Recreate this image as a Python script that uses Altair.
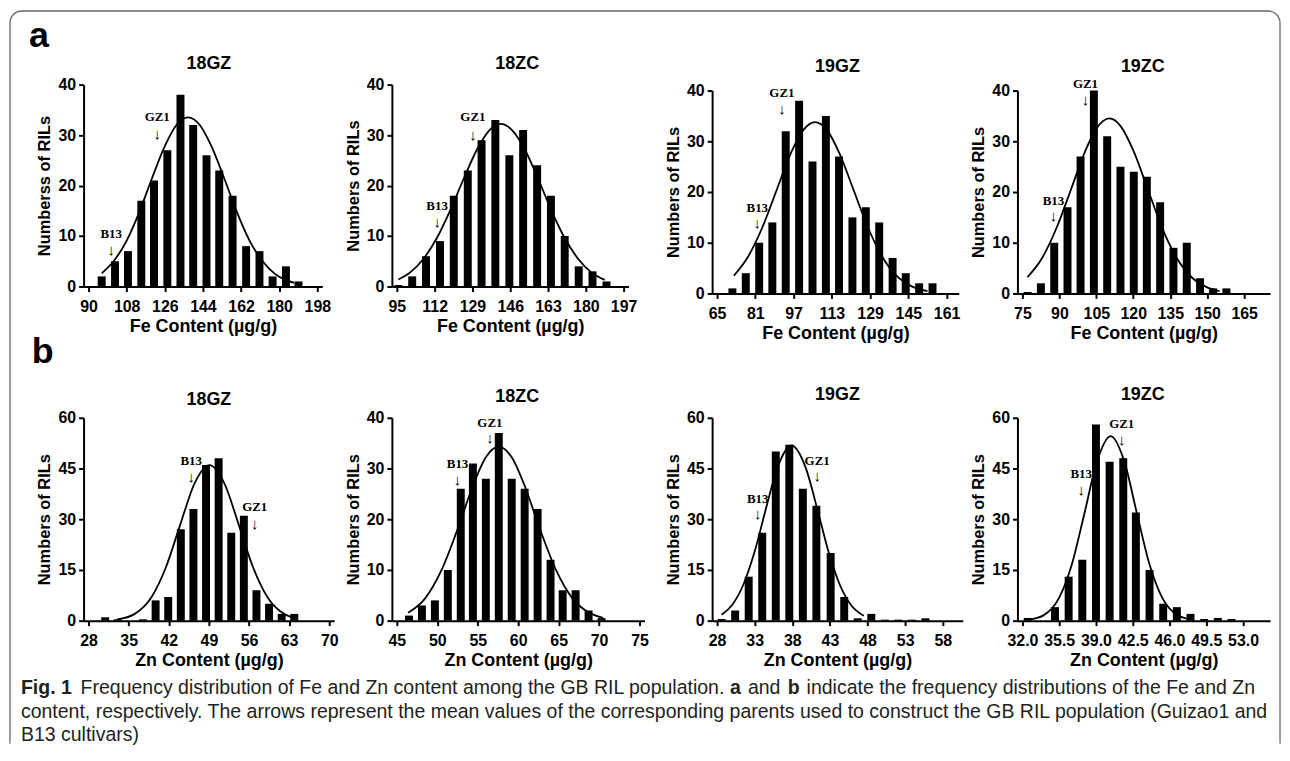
import altair as alt
import pandas as pd

# ---------------- data ----------------
# Panel a: Fe content
FE18GZ_BIN = [96.2, 102.5, 108.6, 114.9, 120.9, 127.2, 133.4, 139.4, 145.7, 151.7, 158.0, 164.4, 170.7, 176.9, 183.2, 189.1]
FE18GZ_N = [2, 5, 7, 17, 21, 27, 38, 32, 26, 23, 18, 8, 7, 2, 4, 1]
FE18GZ_CX = [96.2, 102, 108, 114, 120, 126, 131.5, 137, 142.5, 148, 154, 160, 166, 172, 178, 183, 187]
FE18GZ_CY = [2.6, 5.1, 9.1, 14.8, 21.5, 27.8, 32.0, 33.5, 32.0, 27.8, 21.5, 14.8, 9.1, 5.1, 2.5, 1.3, 0.7]
FE18GZ_ANN_X = [122.4, 100.7]
FE18GZ_ANN_TY = [33.5, 10.4]
FE18GZ_ANN_AY = [30.3, 7.3]

FE18ZC_BIN = [95.7, 101.9, 108.1, 114.4, 120.6, 126.9, 133.1, 139.3, 145.6, 151.8, 158.1, 164.3, 170.5, 176.8, 183.0, 189.3]
FE18ZC_N = [0.3, 2, 6, 9, 18, 23, 29, 33, 26, 31, 24, 18, 10, 4, 3, 1]
FE18ZC_CX = [95.7, 101, 107, 113, 119, 125, 131, 136.5, 141.8, 147, 152.5, 158.5, 164.5, 170.5, 176.5, 182.5, 188.5]
FE18ZC_CY = [1.4, 2.8, 5.5, 9.6, 15.1, 21.3, 27.1, 30.9, 32.2, 30.9, 27.2, 21.4, 15.1, 9.6, 5.5, 2.8, 1.3]
FE18ZC_ANN_X = [129.2, 113.1]
FE18ZC_ANN_TY = [33.5, 16.0]
FE18ZC_ANN_AY = [30.1, 12.8]

FE19GZ_BIN = [71.4, 77.0, 82.6, 88.1, 93.7, 99.3, 104.9, 110.5, 116.0, 121.6, 127.2, 132.8, 138.4, 143.9, 149.5, 155.1]
FE19GZ_N = [1, 4, 10, 14, 32, 38, 26, 35, 27, 15, 17, 14, 7, 4, 2, 2]
FE19GZ_CX = [72, 78, 84, 90, 96, 101, 106, 111, 116, 122, 128, 134, 140, 146, 153]
FE19GZ_CY = [3.5, 7.3, 13.1, 20.5, 27.8, 32.2, 33.8, 32.2, 27.8, 20.5, 13.1, 7.3, 3.5, 1.5, 0.45]
FE19GZ_ANN_X = [92.1, 81.8]
FE19GZ_ANN_TY = [39.5, 16.8]
FE19GZ_ANN_AY = [36.4, 13.8]

FE19ZC_BIN = [77.1, 82.5, 87.9, 93.3, 98.6, 104.0, 109.4, 114.8, 120.2, 125.5, 130.9, 136.3, 141.7, 147.1, 152.4, 157.8]
FE19ZC_N = [0.3, 2, 10, 17, 27, 40, 31, 25, 24, 23, 18, 9, 10, 3, 1, 1]
FE19ZC_CX = [77, 83, 89, 95, 100, 105, 110.3, 115, 120, 126, 132, 138, 144, 150, 155]
FE19ZC_CY = [3.2, 7.0, 13.1, 20.9, 27.5, 32.5, 34.5, 32.9, 28.2, 20.4, 12.6, 6.7, 3.05, 1.2, 0.48]
FE19ZC_ANN_X = [100.6, 87.6]
FE19ZC_ANN_TY = [41.2, 18.3]
FE19ZC_ANN_AY = [38.1, 15.2]

# Panel b: Zn content
ZN18GZ_BIN = [30.9, 33.1, 37.5, 39.7, 41.9, 44.1, 46.3, 48.5, 50.7, 52.9, 55.1, 57.3, 59.5, 61.7, 63.9]
ZN18GZ_N = [1, 0.4, 0.4, 6, 7, 27, 33, 46, 48, 26, 31, 9, 5, 2, 2]
ZN18GZ_CX = [33, 36, 39, 41.5, 44, 46.5, 49.1, 51.7, 54.2, 56.7, 59.2, 62.2, 63.5]
ZN18GZ_CY = [0.38, 1.93, 7.0, 15.8, 28.4, 40.6, 46.0, 40.6, 28.4, 15.8, 7.0, 1.93, 1.0]
ZN18GZ_ANN_X = [45.9, 57.0]
ZN18GZ_ANN_TY = [47.2, 33.5]
ZN18GZ_ANN_AY = [42.4, 28.5]

ZN18ZC_BIN = [46.5, 48.1, 49.7, 51.3, 52.9, 54.4, 56.0, 57.6, 59.2, 60.8, 62.4, 64.0, 65.5, 67.1, 68.7, 70.3]
ZN18ZC_N = [1, 3, 4, 10, 26, 31, 28, 37, 28, 26, 22, 12, 6, 6, 2, 0.5]
ZN18ZC_CX = [46.4, 48.5, 50.5, 52.5, 54.5, 56, 57.6, 59.2, 60.7, 62.7, 64.7, 66.7, 68.8, 70.5]
ZN18ZC_CY = [1.55, 4.4, 9.9, 18.0, 27.0, 32.2, 34.3, 32.2, 27.0, 18.0, 9.9, 4.4, 1.55, 0.56]
ZN18ZC_ANN_X = [56.5, 52.5]
ZN18ZC_ANN_TY = [39.0, 30.8]
ZN18ZC_ANN_AY = [36.0, 27.7]

ZN19GZ_BIN = [28.6, 30.4, 32.2, 34.0, 35.8, 37.6, 39.4, 41.2, 43.1, 44.9, 46.7, 48.5, 50.3, 52.1, 53.9, 55.7]
ZN19GZ_N = [0.5, 3, 13, 26, 50, 52, 39, 34, 20, 7, 0.7, 2, 0.3, 0.3, 0.3, 0.7]
ZN19GZ_CX = [28.6, 30, 31.5, 33, 34.5, 36, 37.9, 39.8, 41.3, 42.8, 44.3, 45.8, 47.5]
ZN19GZ_CY = [1.75, 4.66, 10.7, 20.5, 33.2, 45.1, 51.8, 45.1, 33.2, 20.5, 10.7, 4.66, 1.48]
ZN19GZ_ANN_X = [41.3, 33.4]
ZN19GZ_ANN_TY = [47.2, 36.1]
ZN19GZ_ANN_AY = [42.7, 31.6]

ZN19ZC_BIN = [32.5, 35.1, 36.4, 37.7, 39.0, 40.3, 41.6, 42.8, 44.1, 45.4, 46.7, 48.0, 49.3, 50.6, 51.9]
ZN19ZC_N = [0.8, 4, 13, 18, 58, 47, 48, 32, 15, 5, 4, 2, 0.5, 0.8, 0.5]
ZN19ZC_CX = [32.6, 34, 35.5, 36.7, 37.9, 39.1, 40.4, 41.7, 42.9, 44.1, 45.3, 46.8, 48.2]
ZN19ZC_CY = [0.28, 1.56, 6.8, 16.6, 31.7, 47.1, 54.6, 47.1, 31.7, 16.6, 6.8, 1.56, 0.28]
ZN19ZC_ANN_X = [41.45, 37.6]
ZN19ZC_ANN_TY = [58.3, 43.5]
ZN19ZC_ANN_AY = [53.5, 38.7]

ANN_LABELS = ["GZ1", "B13"]
ZN18GZ_LABELS = ["B13", "GZ1"]

# tick labels
FE18GZ_TICKS = [90, 108, 126, 144, 162, 180, 198]
FE18ZC_TICKS = [95, 112, 129, 146, 163, 180, 197]
FE19GZ_TICKS = [65, 81, 97, 113, 129, 145, 161]
FE19ZC_TICKS = [75, 90, 105, 120, 135, 150, 165]
ZN18GZ_TICKS = [28, 35, 42, 49, 56, 63, 70]
ZN18ZC_TICKS = [45, 50, 55, 60, 65, 70, 75]
ZN19GZ_TICKS = [28, 33, 38, 43, 48, 53, 58]
ZN19ZC_TICKS = [32.0, 35.5, 39.0, 42.5, 46.0, 49.5, 53.0]
Y40_TICKS = [0, 10, 20, 30, 40]
Y60_TICKS = [0, 15, 30, 45, 60]

CAPTION_L1 = [("Fig. 1", "bold", 20),
              ("Frequency distribution of Fe and Zn content among the GB RIL population.", "normal", 80),
              ("a", "bold", 733),
              ("and", "normal", 751),
              ("b", "bold", 791),
              ("indicate the frequency distributions of the Fe and Zn", "normal", 810)]
CAPTION_L2 = "content, respectively. The arrows represent the mean values of the corresponding parents used to construct the GB RIL population (Guizao1 and"
CAPTION_L3 = "B13 cultivars)"

SANS = "Liberation Sans"
SERIF = "Liberation Serif"


def txt(s, x, y, size, weight="normal", color="black", align="left", font=SANS):
    return alt.Chart(pd.DataFrame({"t": [s]})).mark_text(
        font=font, fontSize=size, fontWeight=weight, color=color, align=align,
        baseline="middle").encode(text="t:N", x=alt.value(x), y=alt.value(y))


def panel(title, title_y, bins, counts, cx, cy, ax, aty, aay, labels, xdom, xticks, xlen,
          width, ydom, yticks, yrange, height, ytitle, xtitle, fmt="d", extra=None):
    bars_df = pd.DataFrame({"v": bins, "n": counts})
    curve_df = pd.DataFrame({"v": cx, "n": cy})
    ann_df = pd.DataFrame({"v": ax, "ty": aty, "ay": aay, "lab": labels})
    xs = alt.Scale(domain=xdom, range=[0, xlen], nice=False, zero=False)
    ys = alt.Scale(domain=ydom, range=yrange, nice=False, zero=True)
    xaxis = alt.Axis(values=xticks, title=xtitle, format=fmt, labelFlush=False,
                     labelOverlap=False, labelPadding=7, titlePadding=3,
                     titleFontSize=18, labelFontSize=16)
    yaxis = alt.Axis(values=yticks, title=ytitle, format="d", labelPadding=3,
                     titlePadding=5, titleFontSize=16.5, labelFontSize=16)
    X = lambda f: alt.X(f, scale=xs, axis=xaxis)
    Y = lambda f: alt.Y(f, scale=ys, axis=yaxis)
    bars = alt.Chart(bars_df).mark_bar(color="black", size=8).encode(
        x=X("v:Q"), y=Y("n:Q"))
    curve = alt.Chart(curve_df).mark_line(color="black", strokeWidth=1.8,
                                          interpolate="monotone").encode(
        x=X("v:Q"), y=Y("n:Q"))
    lab = alt.Chart(ann_df).mark_text(font=SERIF, fontWeight="bold", fontSize=13,
                                      color="black").encode(
        x=X("v:Q"), y=Y("ty:Q"), text="lab:N")
    arr = alt.Chart(ann_df).mark_text(font=SERIF, fontSize=15, text="\u2193",
                                      color="black").encode(
        x=X("v:Q"), y=Y("ay:Q"))
    ttl = txt(title, 126, title_y, 18, "bold", "black", "center")
    layers = [bars, curve, lab, arr, ttl]
    if extra:
        layers += extra
    return alt.layer(*layers).properties(width=width, height=height)


# decorations (relative to panel a1 plot origin at page (83, 83))
frame = alt.Chart(pd.DataFrame({"k": [0]})).mark_rect(
    fill=None, stroke="#666666", strokeWidth=1.3, cornerRadiusTopLeft=12,
    cornerRadiusTopRight=12).encode(
    x=alt.value(-74), x2=alt.value(1203), y=alt.value(-74), y2=alt.value(662))
frame_cut = alt.Chart(pd.DataFrame({"k": [0]})).mark_rule(
    stroke="white", strokeWidth=4).encode(
    x=alt.value(-73.4), x2=alt.value(1202.4), y=alt.value(662))
label_a = txt("a", -55, -49, 36, "bold")

# caption (relative to panel b1 plot origin at page (83, 418))
cap_color = "#231f20"
CAP = 19.6
caption = [txt(s, x - 83, 272, CAP, w, cap_color) for s, w, x in CAPTION_L1]
caption += [txt(CAPTION_L2, 20 - 83, 296, CAP, "normal", cap_color),
            txt(CAPTION_L3, 20 - 83, 319, CAP, "normal", cap_color)]
label_b = txt("b", -52, -66, 36, "bold")

fe_title = "Fe Content (\u00b5g/g)"
zn_title = "Zn Content (\u00b5g/g)"

a1 = panel("18GZ", -21, FE18GZ_BIN, FE18GZ_N, FE18GZ_CX, FE18GZ_CY, FE18GZ_ANN_X, FE18GZ_ANN_TY,
           FE18GZ_ANN_AY, ANN_LABELS, [90, 198], FE18GZ_TICKS, 240, 260,
           [0, 40], Y40_TICKS, [203, 0], 203, "Numberss of RILs", fe_title,
           extra=[frame, frame_cut, label_a])
a2 = panel("18ZC", -21, FE18ZC_BIN, FE18ZC_N, FE18ZC_CX, FE18ZC_CY, FE18ZC_ANN_X, FE18ZC_ANN_TY,
           FE18ZC_ANN_AY, ANN_LABELS, [95, 197], FE18ZC_TICKS, 238, 271.5,
           [0, 40], Y40_TICKS, [203, 0], 203, "Numbers of RILs", fe_title)
a3 = panel("19GZ", -18, FE19GZ_BIN, FE19GZ_N, FE19GZ_CX, FE19GZ_CY, FE19GZ_ANN_X, FE19GZ_ANN_TY,
           FE19GZ_ANN_AY, ANN_LABELS, [65, 164], FE19GZ_TICKS, 248, 256.5,
           [0, 40], Y40_TICKS, [210, 6], 210, "Numbers of RILs", fe_title)
a4 = panel("19ZC", -18, FE19ZC_BIN, FE19ZC_N, FE19ZC_CX, FE19ZC_CY, FE19ZC_ANN_X, FE19ZC_ANN_TY,
           FE19ZC_ANN_AY, ANN_LABELS, [75, 173.5], FE19ZC_TICKS, 254, 254,
           [0, 40], Y40_TICKS, [210, 6], 210, "Numbers of RILs", fe_title)

b1 = panel("18GZ", -18, ZN18GZ_BIN, ZN18GZ_N, ZN18GZ_CX, ZN18GZ_CY, ZN18GZ_ANN_X, ZN18GZ_ANN_TY,
           ZN18GZ_ANN_AY, ZN18GZ_LABELS, [28, 70], ZN18GZ_TICKS, 252, 260,
           [0, 60], Y60_TICKS, [204, 0], 204, "Numbers of RILs", zn_title,
           extra=[label_b] + caption)
b2 = panel("18ZC", -21, ZN18ZC_BIN, ZN18ZC_N, ZN18ZC_CX, ZN18ZC_CY, ZN18ZC_ANN_X, ZN18ZC_ANN_TY,
           ZN18ZC_ANN_AY, ANN_LABELS, [45, 75], ZN18ZC_TICKS, 254, 271.5,
           [0, 40], Y40_TICKS, [204, 0], 204, "Numbers of RILs", zn_title)
b3 = panel("19GZ", -23, ZN19GZ_BIN, ZN19GZ_N, ZN19GZ_CX, ZN19GZ_CY, ZN19GZ_ANN_X, ZN19GZ_ANN_TY,
           ZN19GZ_ANN_AY, ANN_LABELS, [28, 60], ZN19GZ_TICKS, 252, 256.5,
           [0, 60], Y60_TICKS, [204, 0], 204, "Numbers of RILs", zn_title)
b4 = panel("19ZC", -23, ZN19ZC_BIN, ZN19ZC_N, ZN19ZC_CX, ZN19ZC_CY, ZN19ZC_ANN_X, ZN19ZC_ANN_TY,
           ZN19ZC_ANN_AY, ANN_LABELS, [32, 55.1], ZN19ZC_TICKS, 254, 254,
           [0, 60], Y60_TICKS, [204, 0], 204, "Numbers of RILs", zn_title, fmt=".1f")

chart = alt.concat(a1, a2, a3, a4, b1, b2, b3, b4, columns=4,
                   spacing={"row": 125, "column": 50}, bounds="flush",
                   align="each").properties(
    padding=0, background="white"
).configure_view(stroke=None).configure_axis(
    domainColor="black", domainWidth=2, tickColor="black", tickWidth=2, tickSize=5,
    labelFont=SANS, labelFontWeight="bold", labelColor="black",
    titleFont=SANS, titleFontWeight="bold", titleColor="black", grid=False,
)

chart.save("out.html", embed_options={"renderer": "svg", "actions": False})
